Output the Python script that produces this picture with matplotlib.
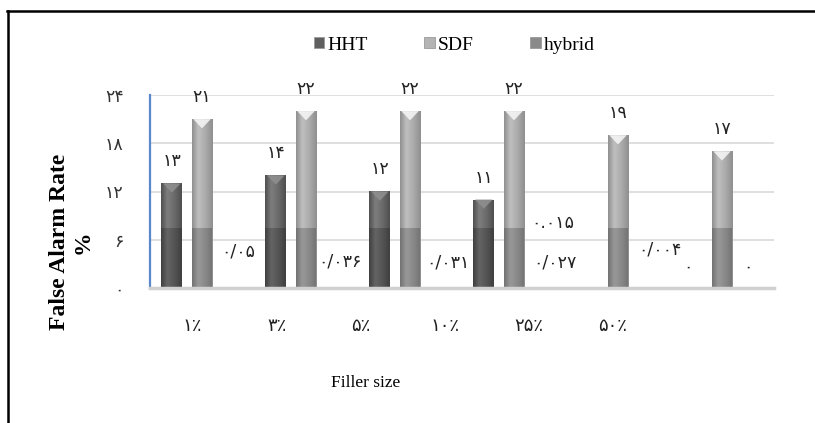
import numpy as np
import matplotlib
matplotlib.use('Agg')
import matplotlib.pyplot as plt
from matplotlib.patches import Polygon, Rectangle
from matplotlib.lines import Line2D
from matplotlib.colors import LinearSegmentedColormap

# ---------------- data ----------------
categories = ['۱٪', '۳٪', '۵٪', '۱۰٪', '۲۵٪', '۵۰٪']
series_names = ['HHT', 'SDF', 'hybrid']
hht = [13, 14, 12, 11, 0.015, 0]
sdf = [21, 22, 22, 22, 19, 17]
hybrid = [0.05, 0.036, 0.031, 0.027, 0.004, 0]
hht_labels = ['۱۳', '۱۴', '۱۲', '۱۱', '۰.۰۱۵', '۰']
sdf_labels = ['۲۱', '۲۲', '۲۲', '۲۲', '۱۹', '۱۷']
hybrid_labels = ['۰/۰۵', '۰/۰۳۶', '۰/۰۳۱', '۰/۰۲۷', '۰/۰۰۴', '۰']
yticks = [0, 6, 12, 18, 24]
ytick_labels = ['۰', '۶', '۱۲', '۱۸', '۲۴']
ylabel_text = 'False Alarm Rate\n%'
xlabel_text = 'Filler size'

# ---------------- layout / style ----------------
W, H = 815, 423
fig = plt.figure(figsize=(W / 100, H / 100), dpi=100)
fig.patch.set_facecolor('white')
ax = fig.add_axes([150 / W, 1 - 288 / H, 624 / W, 193 / H])
ax.set_facecolor('none')

serif = ['Liberation Serif', 'DejaVu Sans']
digits_font = ['DejaVu Sans']

n = len(categories)
x = np.arange(n)
bw = 0.2
off = 0.29

styles = {
    'HHT': dict(edge='#4f4f4f', light='#7e7e7e', mid='#6a6a6a', tri='#8e8e8e', legend='#5f5f5f'),
    'SDF': dict(edge='#8f8f8f', light='#bfbfbf', mid='#ababab', tri='#f4f4f4', legend='#b4b4b4'),
    'hybrid': dict(edge='#6f6f6f', light='#9a9a9a', mid='#8a8a8a', tri='#b0b0b0', legend='#8a8a8a'),
}

series = [(series_names[0], hht, hht_labels, -off),
          (series_names[1], sdf, sdf_labels, 0.0),
          (series_names[2], hybrid, hybrid_labels, off)]

# label offsets in pixels (layout only)
label_offsets = {
    'HHT': [(0, 22), (0, 22), (0, 22), (0, 22), (-35, 65), (-4, 21)],
    'SDF': [(0, 22)] * 6,
    'hybrid': [(6, 36), (4, 26), (8, 25), (11, 25), (12, 38), (-4, 21)],
}

band_top = 7.5  # darker lower band seen in the source image

for name, vals, labs, o in series:
    st = styles[name]
    cmap = LinearSegmentedColormap.from_list(
        name, [(0, st['edge']), (0.3, st['light']), (0.65, st['mid']), (1, st['edge'])])
    bars = ax.bar(x + o, vals, width=bw, color=st['mid'], zorder=3, linewidth=0)
    grad = np.linspace(0, 1, 64).reshape(1, -1)
    for b in bars:
        bx, bwid, bh = b.get_x(), b.get_width(), b.get_height()
        if bh <= 0:
            continue
        im = ax.imshow(grad, cmap=cmap, extent=[bx, bx + bwid, 0, bh],
                       aspect='auto', zorder=3.1, interpolation='bicubic')
        im.set_clip_path(b)
        if bh > 1.5:
            tri = Polygon([(bx + 0.08 * bwid, bh), (bx + 0.92 * bwid, bh),
                           (bx + 0.5 * bwid, bh - 1.15)], closed=True,
                          facecolor=st['tri'], edgecolor='none', zorder=3.3, alpha=0.9)
            ax.add_patch(tri)
    ax.bar(x + o, np.minimum(vals, band_top), width=bw, color='black',
           alpha=0.2, zorder=3.2, linewidth=0)
    for i, (v, lab) in enumerate(zip(vals, labs)):
        dx, dy = label_offsets[name][i]
        ax.annotate(lab, (x[i] + o, v), xytext=(dx, dy), textcoords='offset pixels',
                    ha='center', va='center', fontsize=12.5, color='#222222',
                    family=digits_font, zorder=5)

ax.set_xlim(-0.5, n - 0.5)
ax.set_ylim(0, 24)
ax.set_yticks(yticks)
ax.set_yticklabels(ytick_labels, family=digits_font, fontsize=12.5, color='#333333')
ax.yaxis.grid(True, color='#d9d9d9', linewidth=1.2, zorder=0)
ax.set_axisbelow(True)

tick_pos = -0.09 + 0.808 * x
ax.set_xticks(tick_pos)
ax.set_xticklabels(categories, family=digits_font, fontsize=13, color='#222222')
ax.tick_params(axis='x', length=0, pad=21)
ax.tick_params(axis='y', length=0, pad=19)

for s in ['top', 'right']:
    ax.spines[s].set_visible(False)
ax.spines['left'].set_color('#5a88cc')
ax.spines['left'].set_linewidth(1.6)
ax.spines['bottom'].set_color('#d0d0d0')
ax.spines['bottom'].set_linewidth(2.5)
ax.spines['bottom'].set_zorder(4)

# axis titles
fig.text(71 / W, 1 - 242 / H, ylabel_text, rotation=90, ha='center', va='center',
         fontsize=17, fontweight='bold', family=serif, multialignment='center',
         linespacing=1.15)
fig.text(366 / W, 1 - 383 / H, xlabel_text, ha='center', va='center',
         fontsize=12.5, family=serif)

# legend
handles = [Rectangle((0, 0), 1, 1, facecolor=styles[nm]['legend'], edgecolor='#9a9a9a',
                     linewidth=0.6) for nm in series_names]
fig.legend(handles, series_names, loc='center', bbox_to_anchor=(454 / W, 1 - 45 / H),
           ncol=3, frameon=False, handlelength=0.55, handleheight=0.55,
           handletextpad=0.15, columnspacing=2.9, prop={'family': serif, 'size': 14})

# frame lines of the source image
fig.add_artist(Line2D([7 / W, 1.0], [1 - 11 / H, 1 - 11 / H], color='black', linewidth=1.8))
fig.add_artist(Line2D([8 / W, 8 / W], [1 - 11 / H, 0], color='black', linewidth=1.8))

fig.savefig('out.png', dpi=100)
